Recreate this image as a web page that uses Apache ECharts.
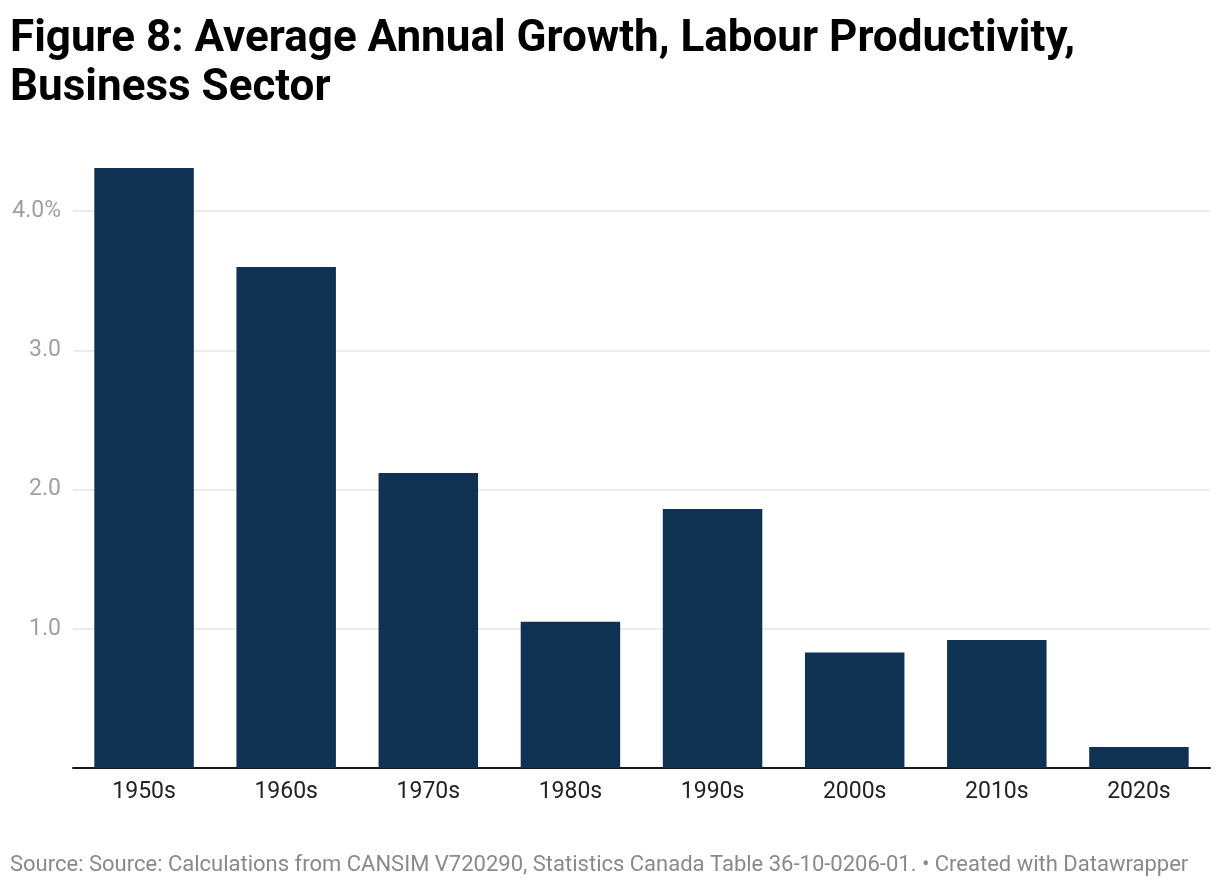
<!DOCTYPE html>
<html>
<head>
<meta charset="utf-8">
<script src="https://cdn.jsdelivr.net/npm/echarts@6/dist/echarts.min.js"></script>
<style>
html,body{margin:0;padding:0;background:#fff;}
#chart{width:1220px;height:888px;}
</style>
</head>
<body>
<div id="chart"></div>
<script>
var categories = ['1950s','1960s','1970s','1980s','1990s','2000s','2010s','2020s'];
var growth = [4.31, 3.60, 2.12, 1.05, 1.86, 0.83, 0.92, 0.15];
var yTickValues = [0, 1, 2, 3, 4];
var yTickLabels = ['', '1.0', '2.0', '3.0', '4.0%'];
var titleText = 'Figure 8: Average Annual Growth, Labour Productivity,\nBusiness Sector';
var sourceText = 'Source: Source: Calculations from CANSIM V720290, Statistics Canada Table 36-10-0206-01. \u2022 Created with Datawrapper';

var chart = echarts.init(document.getElementById('chart'));
chart.setOption({
  animation: false,
  backgroundColor: '#ffffff',
  title: {
    text: titleText,
    left: 10,
    top: 15,
    padding: 0,
    textStyle: {
      fontFamily: 'Roboto',
      fontWeight: 'bold',
      fontSize: 44,
      lineHeight: 49,
      color: '#000000'
    }
  },
  graphic: [{
    type: 'text',
    left: 10,
    top: 854,
    style: {
      text: sourceText,
      fontFamily: 'Roboto',
      fontSize: 22,
      fill: '#8a8a8a'
    }
  }],
  grid: {
    left: 73,
    right: 10,
    top: 72,
    bottom: 120,
    containLabel: false
  },
  xAxis: {
    type: 'category',
    data: categories,
    axisLine: { show: true, lineStyle: { color: '#1a1a1a', width: 2 } },
    axisTick: { show: false },
    axisLabel: {
      color: '#222222',
      fontFamily: 'Roboto',
      fontSize: 23,
      margin: 13
    }
  },
  yAxis: {
    type: 'value',
    min: 0,
    max: 5,
    interval: 1,
    axisLine: { show: false },
    axisTick: { show: false },
    splitLine: {
      show: true,
      showMinLine: false,
      showMaxLine: false,
      lineStyle: { color: '#e6e6e6', width: 1.5 }
    },
    axisLabel: {
      showMaxLabel: false,
      color: '#a0a0a0',
      fontFamily: 'Roboto',
      fontSize: 23,
      margin: 12,
      formatter: function (v) {
        var i = yTickValues.indexOf(v);
        return i >= 0 ? yTickLabels[i] : '';
      }
    }
  },
  series: [{
    type: 'bar',
    data: growth,
    barCategoryGap: '30%',
    itemStyle: { color: '#103252' }
  }]
});
</script>
</body>
</html>
